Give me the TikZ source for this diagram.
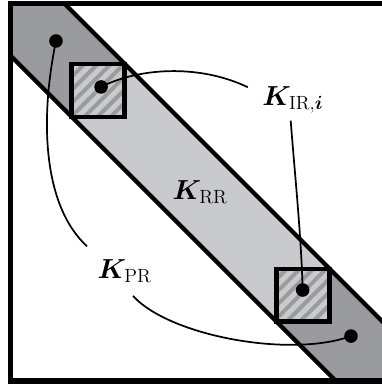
\documentclass[tikz,border=0pt]{standalone}
\usetikzlibrary{patterns.meta}
\definecolor{banddark}{HTML}{9A9B9E}
\definecolor{bandlight}{HTML}{C9CACC}
\usepackage{amsmath,amssymb,bm}

\begin{document}
\begin{tikzpicture}[
    edge/.style={line width=3.2pt},
    hatchbox/.style={draw, line width=3.4pt, minimum size=1.40cm, inner sep=0pt, preaction={fill=bandlight}, pattern={Lines[angle=45,distance=7pt,line width=3pt]}, pattern color=banddark},
    dot/.style={circle, fill=black, minimum size=0.36cm, inner sep=0pt},
    link/.style={line width=1.3pt},
    lbl/.style={font=\huge},
]
\useasboundingbox (-0.278,-0.106) rectangle (9.841,10.093);
\clip (-0.278,-0.106) rectangle (9.841,10.093);
\fill[bandlight] (0,10) -- (1.43,10) -- (10,1.43) -- (10,0) -- (8.62,0) -- (0,8.62) -- cycle;
\fill[banddark] (0,10) -- (1.43,10) -- (3.02,8.41) -- (1.62,7.0) -- (0,8.62) -- cycle;
\fill[banddark] (10,0) -- (8.62,0) -- (7.05,1.57) -- (8.45,2.97) -- (10,1.43) -- cycle;
\draw[edge] (1.43,10) -- (10,1.43);
\draw[edge] (0,8.62) -- (8.62,0);
\node[hatchbox] (blka) at (2.32,7.70) {};
\node[hatchbox] (blkb) at (7.75,2.27) {};
\node[lbl, inner xsep=0.38cm, inner ysep=0.18cm] (kir) at (7.48,7.44) {$\bm{K}_{\mathrm{IR},\bm{i}}$};
\node[lbl] (krr) at (5.02,5.01) {$\bm{K}_{\mathrm{RR}}$};
\node[lbl, inner xsep=0.27cm, inner ysep=0.345cm] (kpr) at (3.02,2.91) {$\bm{K}_{\mathrm{PR}}$};
\node[dot] (pa) at (1.205,9.007) {};
\node[dot] (pb) at (2.40,7.79) {};
\node[dot] (pc) at (7.74,2.41) {};
\node[dot] (pd) at (9.02,1.19) {};
\draw[link] (pb.center) .. controls (3.4,8.3) and (5.0,8.4) .. (kir.164);
\draw[link] (kir.264) .. controls (7.52,5.6) and (7.7,3.9) .. (pc.center);
\draw[link] (pa.center) .. controls (0.75,6.8) and (0.9,4.6) .. (kpr.north west);
\draw[link] (kpr.289) .. controls (4.2,1.2) and (7.4,0.6) .. (pd.center);
\draw[line width=3.8pt] (0,0) rectangle (10,10);
\end{tikzpicture}
\end{document}
